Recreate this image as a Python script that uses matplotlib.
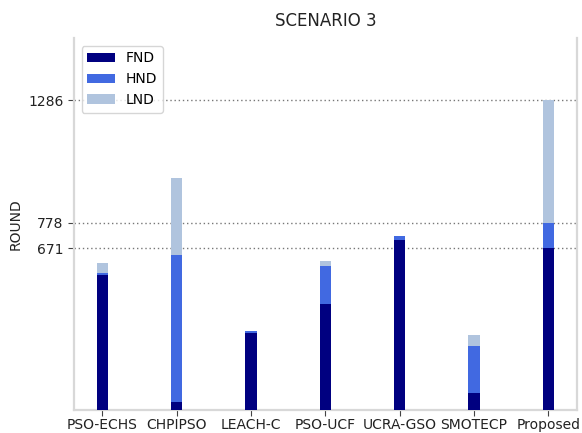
import matplotlib
matplotlib.use("Agg")
import matplotlib.pyplot as plt
import numpy as np

protocols = ["PSO-ECHS", "CHPIPSO", "LEACH-C", "PSO-UCF", "UCRA-GSO", "SMOTECP", "Proposed"]
fnd = [562, 32, 321, 440, 704, 69, 671]
hnd = [570, 643, 329, 598, 723, 266, 778]
lnd = [609, 964, 330, 618, 724, 312, 1286]
ytick_values = [671, 778, 1286]

fig = plt.figure(figsize=(5.82, 4.33), dpi=100)
ax = fig.add_axes([0.127, 0.053, 0.864, 0.859])

x = np.arange(len(protocols))
w = 0.15
ax.bar(x, lnd, width=w, color="lightsteelblue", label="LND", zorder=2)
ax.bar(x, hnd, width=w, color="royalblue", label="HND", zorder=3)
ax.bar(x, fnd, width=w, color="navy", label="FND", zorder=4)

ax.set_ylim(0, 1543)
ax.set_yticks(ytick_values)
ax.set_xticks(x)
ax.set_xticklabels(protocols, fontsize=10, color="#222222")
ax.tick_params(axis="y", labelsize=10, labelcolor="#222222", color="#444444", length=4)
ax.tick_params(axis="x", color="#444444", length=4, pad=2)
ax.yaxis.grid(True, linestyle=(0, (1, 2)), color="#777777", linewidth=1, zorder=1)
ax.set_axisbelow(True)

for side in ["left", "bottom", "right"]:
    ax.spines[side].set_color("#d8d8d8")
    ax.spines[side].set_linewidth(1.6)
ax.spines["top"].set_visible(False)

ax.set_ylabel("ROUND", fontsize=10, color="#222222")
ax.set_title("SCENARIO 3", fontsize=12, color="#222222", pad=9)

handles, labels = ax.get_legend_handles_labels()
order = [2, 1, 0]
ax.legend([handles[i] for i in order], [labels[i] for i in order],
          loc="upper left", fontsize=10, frameon=True, handlelength=2.0,
          borderaxespad=0.55)

fig.savefig("out.png", dpi=100)
